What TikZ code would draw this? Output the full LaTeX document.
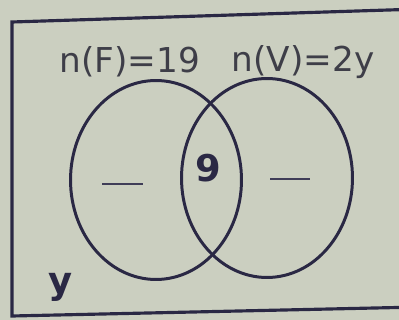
\documentclass[tikz,border=0pt]{standalone}
\usepackage{fontspec}
\setmainfont{DejaVu Sans}
\usetikzlibrary{shapes.geometric}
\definecolor{paper}{RGB}{203,207,192}
\definecolor{ink}{RGB}{42,40,68}
\definecolor{print}{RGB}{62,62,72}
\begin{document}
\begin{tikzpicture}[
                x=0.02cm, y=-0.02cm,
                venn/.style={ellipse, draw=ink, line width=1.7pt, minimum width=3.42cm, minimum height=3.98cm, inner sep=0pt},
                label text/.style={text=print, font=\fontsize{19.5}{22}\selectfont, inner sep=0pt},
                region/.style={text=ink, font=\fontsize{21}{24}\selectfont\bfseries, inner sep=0pt},
                blank/.style={draw=ink!90, line width=1pt}
            ]

            % paper and frame
            \fill[paper] (0,0) rectangle (399,320);
            \useasboundingbox (0,0) rectangle (399,320);
            \draw[ink, line width=1.8pt] (420,9) -- (12,22) -- (12,316) -- (420,307);

            % the two sets
            \node[venn] (F) at (156,180) {};
            \node[venn] (V) at (267,178) {};

            \node[label text] (nF) at (130,62) {n(F)=19};
            \node[label text] (nV) at (303,62) {n(V)=2y};

            \node[region] (both) at (208,168) {9};
            \node[region] (y) at (61,287) {y};

            % blanks to fill in
            \coordinate (fa) at (102,184);
            \coordinate (fb) at (143,184);
            \coordinate (va) at (270,179);
            \coordinate (vb) at (310,179);
            \draw[blank] (fa) -- (fb);
            \draw[blank] (va) -- (vb);

        \end{tikzpicture}
\end{document}
